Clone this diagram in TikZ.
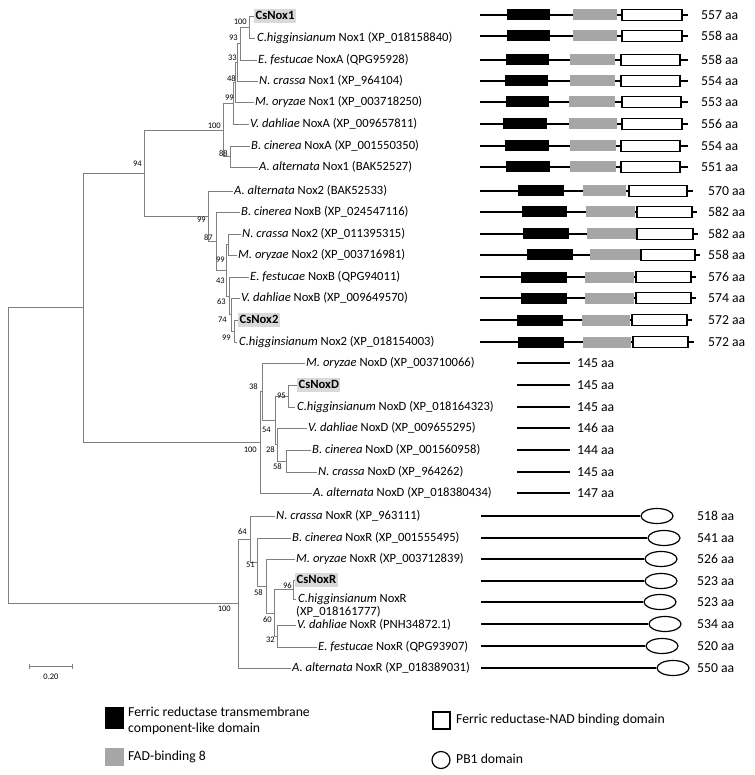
\documentclass[tikz,border=0pt]{standalone}
\usepackage{fontspec}
\setmainfont{Carlito}
\usetikzlibrary{shapes.geometric}
\definecolor{treegray}{HTML}{808080}
\definecolor{hlgray}{HTML}{D9D9D9}
\definecolor{fadgray}{HTML}{A6A6A6}
\newcommand\lblfont{\fontsize{12.6}{15}\selectfont}
\newcommand\aafont{\fontsize{13.7}{16}\selectfont}
\newcommand\noxrow[9]{%
  \draw[dline] (#2,#1) -- (#3,#1);
  \fill[black] (#4,{#1-5.5}) rectangle (#5,{#1+5.5});
  \fill[fadgray] (#6,{#1-5.5}) rectangle (#7,{#1+5.5});
  \draw[nadbox] (#8,{#1-5.5}) rectangle (#9,{#1+5.5});}
\tikzset{
  tree/.style={draw=treegray, line width=0.8pt},
  leaf/.style={anchor=west, inner sep=0pt, text height=9pt, text depth=2.5pt, font=\lblfont},
  hl/.style={anchor=west, fill=hlgray, inner xsep=1.5pt, inner ysep=1.5pt, text height=9pt, text depth=2.5pt, font=\lblfont\bfseries},
  bs/.style={anchor=east, inner sep=0pt, font=\fontsize{8.5}{9}\selectfont},
  aa/.style={anchor=west, inner sep=0pt, font=\aafont},
  dline/.style={line width=1.3pt},
  nadbox/.style={draw=black, fill=white, line width=1.1pt},
  pb1/.style={ellipse, draw=black, fill=white, line width=1.2pt, minimum width=32pt, minimum height=15pt, inner sep=0pt},
  leg/.style={anchor=west, inner sep=0pt, font=\aafont, align=left},
}
\begin{document}
\begin{tikzpicture}[x=1pt,y=-1pt]
\useasboundingbox (0,0) rectangle (754,775);

% ---------- internal tree nodes ----------
\coordinate (n1) at (249,27);
\coordinate (n2) at (240,43.5);
\coordinate (n3) at (237,62);
\coordinate (n4) at (235,82);
\coordinate (n5) at (233,103);
\coordinate (n6) at (230,156.5);
\coordinate (n7) at (223,130);
\coordinate (n8) at (144,173);
\coordinate (n9) at (208,216);
\coordinate (n10) at (216,241);
\coordinate (n11) at (226,270);
\coordinate (n12) at (228,244.5);
\coordinate (n13) at (229,296);
\coordinate (n14) at (231,314.5);
\coordinate (n15) at (234,331);
\coordinate (n16) at (260,442);
\coordinate (n17) at (275,420);
\coordinate (n18) at (288,396);
\coordinate (n19) at (277,444.5);
\coordinate (n58) at (286,461);
\coordinate (n38) at (262,391.5);
\coordinate (nA) at (83,307.5);
\coordinate (n20) at (238,603.5);
\coordinate (n21) at (250,539);
\coordinate (n22) at (257,562);
\coordinate (n23) at (266,586);
\coordinate (n24) at (274,613);
\coordinate (n25) at (293,589.5);
\coordinate (n26) at (277,636);
\coordinate (n0) at (8,455.5);

% ---------- leaves ----------
\node[hl] (L1) at (254,16) {CsNox1};
\node[leaf] (L2) at (257,38) {\textit{C.higginsianum} Nox1 (XP\_018158840)};
\node[leaf] (L3) at (258,60) {\textit{E. festucae} NoxA (QPG95928)};
\node[leaf] (L4) at (259,81) {\textit{N. crassa} Nox1 (XP\_964104)};
\node[leaf] (L5) at (255,102) {\textit{M. oryzae} Nox1 (XP\_003718250)};
\node[leaf] (L6) at (250,124) {\textit{V. dahliae} NoxA (XP\_009657811)};
\node[leaf] (L7) at (251,146) {\textit{B. cinerea} NoxA (XP\_001550350)};
\node[leaf] (L8) at (259,167) {\textit{A. alternata} Nox1 (BAK52527)};
\node[leaf] (L9) at (234,191) {\textit{A. alternata} Nox2 (BAK52533)};
\node[leaf] (L10) at (241,212) {\textit{B. cinerea} NoxB (XP\_024547116)};
\node[leaf] (L11) at (242,234) {\textit{N. crassa} Nox2 (XP\_011395315)};
\node[leaf] (L12) at (238,255) {\textit{M. oryzae} Nox2 (XP\_003716981)};
\node[leaf] (L13) at (250,277) {\textit{E. festucae} NoxB (QPG94011)};
\node[leaf] (L14) at (241,298) {\textit{V. dahliae} NoxB (XP\_009649570)};
\node[hl] (L15) at (238,320) {CsNox2};
\node[leaf] (L16) at (239,342) {\textit{C.higginsianum} Nox2 (XP\_018154003)};
\node[leaf] (L17) at (306,363) {\textit{M. oryzae} NoxD (XP\_003710066)};
\node[hl] (L18) at (297,385) {CsNoxD};
\node[leaf] (L19) at (297,407) {\textit{C.higginsianum} NoxD (XP\_018164323)};
\node[leaf] (L20) at (308,428) {\textit{V. dahliae} NoxD (XP\_009655295)};
\node[leaf] (L21) at (312,450) {\textit{B. cinerea} NoxD (XP\_001560958)};
\node[leaf] (L22) at (318,472) {\textit{N. crassa} NoxD (XP\_964262)};
\node[leaf] (L23) at (313,493) {\textit{A. alternata} NoxD (XP\_018380434)};
\node[leaf] (L24) at (276,516) {\textit{N. crassa} NoxR (XP\_963111)};
\node[leaf] (L25) at (292,538) {\textit{B. cinerea} NoxR (XP\_001555495)};
\node[leaf] (L26) at (296,559) {\textit{M. oryzae} NoxR (XP\_003712839)};
\node[hl] (L27) at (295,580) {CsNoxR};
\node[leaf] (L28) at (298,599) {\textit{C.higginsianum} NoxR};
\node[leaf] (L28b) at (296,612) {(XP\_018161777)};
\node[leaf] (L29) at (297,625) {\textit{V. dahliae} NoxR (PNH34872.1)};
\node[leaf] (L30) at (318,647) {\textit{E. festucae} NoxR (QPG93907)};
\node[leaf] (L31) at (292,668) {\textit{A. alternata} NoxR (XP\_018389031)};

% ---------- branches ----------
\begin{scope}[tree]
\draw (n1) |- ([xshift=-0.5pt]L1.west);
\draw (n1) |- ([xshift=-2pt]L2.west);
\draw (n2) |- (n1);
\draw (n2) |- ([xshift=-1.5pt]L3.west);
\draw (n3) |- (n2);
\draw (n3) |- ([xshift=-1.5pt]L4.west);
\draw (n4) |- (n3);
\draw (n4) |- ([xshift=-1.5pt]L5.west);
\draw (n5) |- (n4);
\draw (n5) |- ([xshift=-1.5pt]L6.west);
\draw (n6) |- ([xshift=-1.5pt]L7.west);
\draw (n6) |- ([xshift=-1.5pt]L8.west);
\draw (n7) |- (n5);
\draw (n7) |- (n6);
\draw (n8) |- (n7);
\draw (n8) |- (n9);
\draw (n9) |- ([xshift=-1.5pt]L9.west);
\draw (n9) |- (n10);
\draw (n10) |- ([xshift=-1.5pt]L10.west);
\draw (n10) |- (n11);
\draw (n11) |- (n12);
\draw (n11) |- (n13);
\draw (n12) |- ([xshift=-1.5pt]L11.west);
\draw (n12) |- ([xshift=-1.5pt]L12.west);
\draw (n13) |- ([xshift=-1.5pt]L13.west);
\draw (n13) |- (n14);
\draw (n14) |- ([xshift=-1.5pt]L14.west);
\draw (n14) |- (n15);
\draw (n15) |- ([xshift=-0.5pt]L15.west);
\draw (n15) |- ([xshift=-2pt]L16.west);
\draw (n18) |- ([xshift=-0.5pt]L18.west);
\draw (n18) |- ([xshift=-2pt]L19.west);
\draw (n58) |- ([xshift=-1.5pt]L21.west);
\draw (n58) |- ([xshift=-1.5pt]L22.west);
\draw (n19) |- ([xshift=-1.5pt]L20.west);
\draw (n19) |- (n58);
\draw (n17) |- (n18);
\draw (n17) |- (n19);
\draw (n38) |- ([xshift=-1.5pt]L17.west);
\draw (n38) |- (n17);
\draw (n16) |- (n38);
\draw (n16) |- ([xshift=-1.5pt]L23.west);
\draw (nA) |- (n8);
\draw (nA) |- (n16);
\draw (n25) |- ([xshift=-0.5pt]L27.west);
\draw (n25) |- ([xshift=-2pt]L28.west);
\draw (n26) |- ([xshift=-1.5pt]L29.west);
\draw (n26) |- ([xshift=-1.5pt]L30.west);
\draw (n24) |- (n25);
\draw (n24) |- (n26);
\draw (n23) |- ([xshift=-1.5pt]L26.west);
\draw (n23) |- (n24);
\draw (n22) |- ([xshift=-1.5pt]L25.west);
\draw (n22) |- (n23);
\draw (n21) |- ([xshift=-1.5pt]L24.west);
\draw (n21) |- (n22);
\draw (n20) |- (n21);
\draw (n20) |- ([xshift=-1.5pt]L31.west);
\draw (n0) |- (nA);
\draw (n0) |- (n20);
\end{scope}

% ---------- bootstrap values ----------
\node[bs] (b1) at (247,22) {100};
\node[bs] (b2) at (238,38) {93};
\node[bs] (b3) at (237,58) {33};
\node[bs] (b4) at (236,79) {48};
\node[bs] (b5) at (234,98) {99};
\node[bs] (b6) at (221,126) {100};
\node[bs] (b7) at (228,154) {88};
\node[bs] (b8) at (142,164) {94};
\node[bs] (b9) at (206,220) {99};
\node[bs] (b10) at (213,238) {87};
\node[bs] (b11) at (225,260) {99};
\node[bs] (b12) at (225,281) {43};
\node[bs] (b13) at (226,302) {63};
\node[bs] (b14) at (227,320) {74};
\node[bs] (b15) at (231,338) {99};
\node[bs] (b16) at (258,387) {38};
\node[bs] (b17) at (286,396) {95};
\node[bs] (b18) at (271,430) {54};
\node[bs] (b19) at (257,450) {100};
\node[bs] (b20) at (275,450) {28};
\node[bs] (b21) at (282,467) {58};
\node[bs] (b22) at (247,532) {64};
\node[bs] (b23) at (255,565) {51};
\node[bs] (b24) at (263,593) {58};
\node[bs] (b25) at (292,586) {96};
\node[bs] (b26) at (272,620) {60};
\node[bs] (b27) at (275,640) {32};
\node[bs] (b28) at (231,609) {100};

% ---------- scale bar ----------
\coordinate (sb1) at (29,666);
\coordinate (sb2) at (72,666);
\draw[tree] (sb1) -- (sb2);
\draw[tree] ([yshift=-2.5pt]sb1) -- ([yshift=2.5pt]sb1);
\draw[tree] ([yshift=-2.5pt]sb2) -- ([yshift=2.5pt]sb2);
\node[font=\fontsize{8.5}{9}\selectfont, inner sep=0pt] (sbl) at (51,677) {0.20};

% ---------- domain architectures: Nox1 ----------
\noxrow{15}{480}{688}{507}{550}{573}{617}{622}{682}
\noxrow{36}{480}{688}{507}{550}{573}{617}{622}{682}
\noxrow{60}{480}{688}{506}{549}{570}{615}{621}{680}
\noxrow{81}{480}{688}{505}{548}{570}{615}{621}{680}
\noxrow{102}{480}{688}{506}{549}{569}{615}{622}{681}
\noxrow{124}{480}{688}{503}{547}{569}{617}{622}{682}
\noxrow{146}{480}{688}{505}{549}{570}{616}{621}{680}
\noxrow{167}{480}{688}{506}{550}{570}{616}{621}{680}
\node[aa] (a1) at (701,15) {557 aa};
\node[aa] (a2) at (701,36) {558 aa};
\node[aa] (a3) at (701,60) {558 aa};
\node[aa] (a4) at (701,81) {554 aa};
\node[aa] (a5) at (701,102) {553 aa};
\node[aa] (a6) at (701,124) {556 aa};
\node[aa] (a7) at (701,146) {554 aa};
\node[aa] (a8) at (701,167) {551 aa};
% ---------- Nox2 ----------
\noxrow{191}{480}{693}{518}{564}{583}{626}{629}{687}
\noxrow{212}{480}{697}{522}{567}{586}{635}{637}{692}
\noxrow{234}{480}{698}{523}{569}{587}{636}{637}{693}
\noxrow{255}{480}{700}{527}{573}{590}{640}{641}{695}
\noxrow{277}{480}{696}{521}{567}{585}{634}{636}{691}
\noxrow{298}{480}{696}{521}{567}{585}{634}{636}{691}
\noxrow{320}{480}{692}{517}{563}{582}{630}{632}{687}
\noxrow{342}{480}{694}{518}{564}{583}{631}{633}{688}
\node[aa] (a9) at (708,191) {570 aa};
\node[aa] (a10) at (708,212) {582 aa};
\node[aa] (a11) at (708,234) {582 aa};
\node[aa] (a12) at (708,255) {558 aa};
\node[aa] (a13) at (708,277) {576 aa};
\node[aa] (a14) at (708,298) {574 aa};
\node[aa] (a15) at (708,320) {572 aa};
\node[aa] (a16) at (708,342) {572 aa};
% ---------- NoxD ----------
\foreach \yy/\ln in {363/145,385/145,407/145,428/146,450/144,472/145,493/147}{
  \draw[dline] (517,\yy) -- (570,\yy);
  \node[aa] (d\yy) at (577,\yy) {\ln\ aa};
}
% ---------- NoxR ----------
\foreach \yy/\cx/\ln in {516/657/518,538/664/541,559/661/526,581/661/523,602/660/523,624/665/534,646/662/520,668/673/550}{
  \node[pb1] (e\yy) at (\cx,\yy) {};
  \draw[dline] (481,\yy) -- (e\yy.west);
  \node[aa] (r\yy) at (697,\yy) {\ln\ aa};
}

% ---------- legend ----------
\fill[black] (105,707) rectangle (124,729);
\node[leg] (lg1) at (128,720.5) {Ferric reductase transmembrane\\component-like domain};
\fill[fadgray] (105,748) rectangle (124,766);
\node[leg] (lg2) at (128,757) {FAD-binding 8};
\draw[nadbox] (433,712) rectangle (450,729);
\node[leg] (lg3) at (456,720) {Ferric reductase-NAD binding domain};
\node[pb1, minimum width=18pt, minimum height=17pt] (lge) at (441,760) {};
\node[leg] (lg4) at (456,759) {PB1 domain};
\end{tikzpicture}
\end{document}
